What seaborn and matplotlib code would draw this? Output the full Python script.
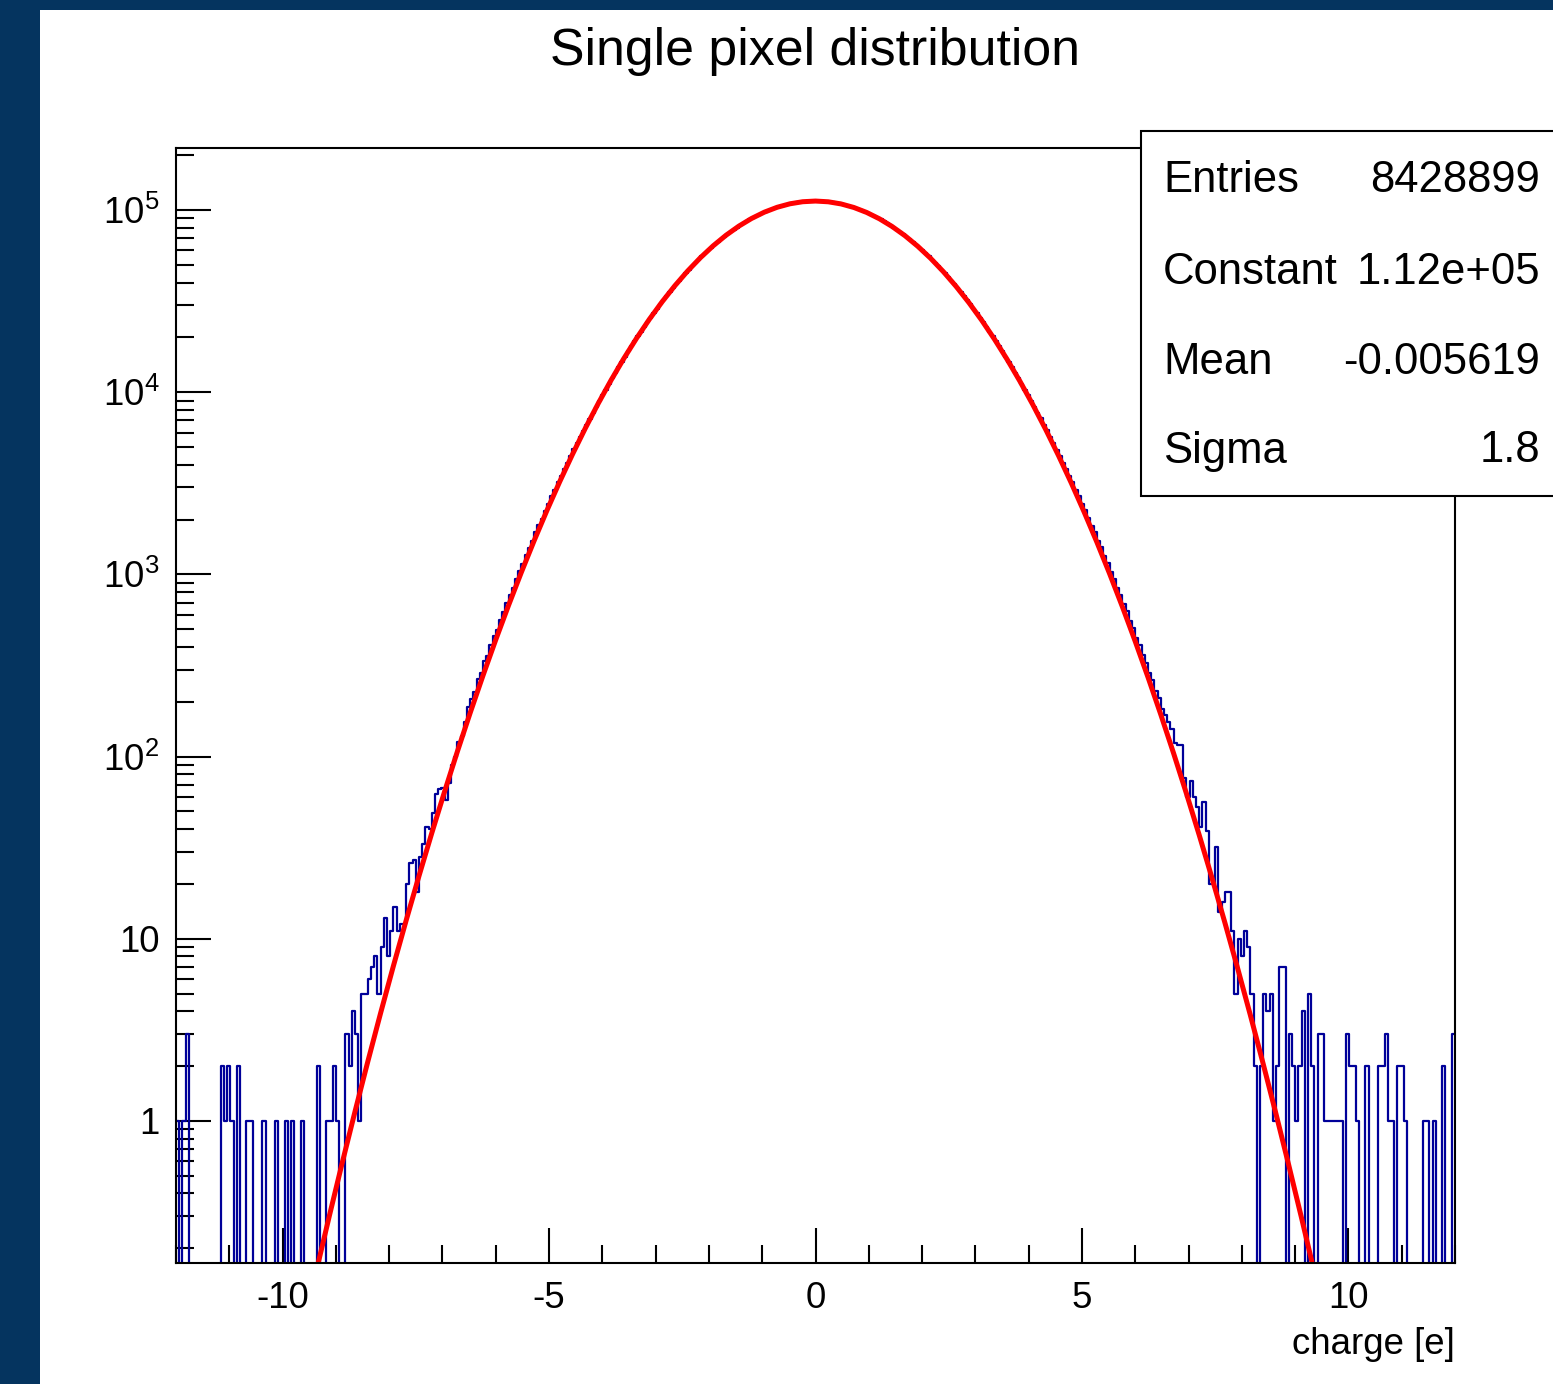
import numpy as np
import pandas as pd
import matplotlib
matplotlib.use("Agg")
import matplotlib.pyplot as plt
import seaborn as sns
from matplotlib import font_manager as fm
from matplotlib.patches import Rectangle
from matplotlib.ticker import FixedLocator, NullFormatter

# ---------------- data ----------------
title = "Single pixel distribution"
x_label = "charge [e]"
x_min, x_max, n_bins = -12.0, 12.0, 400

# bins 0..90 (x from -12 to -6.54), counts
left_tail_counts = [
    1, 0, 1, 3, 0, 0, 0, 0, 0, 0,
    0, 0, 0, 0, 2, 1, 2, 1, 0, 2,
    0, 0, 1, 1, 0, 0, 0, 1, 0, 0,
    0, 1, 0, 0, 1, 0, 1, 0, 0, 1,
    0, 0, 0, 0, 2, 0, 0, 1, 1, 2,
    1, 0, 0, 3, 2, 4, 3, 1, 5, 5,
    6, 7, 8, 5, 9, 13, 8, 11, 15, 11,
    12, 12, 20, 26, 27, 18, 28, 33, 41, 40,
    49, 62, 66, 67, 58, 72, 90, 100, 120, 130,
    155,
]

# bins 91..199 (left half of the core), log10 of counts
core_left_log10 = [
    2.270, 2.318, 2.355, 2.425, 2.458, 2.522, 2.552, 2.614, 2.660, 2.697,
    2.752, 2.793, 2.845, 2.886, 2.926, 2.975, 3.018, 3.059, 3.106, 3.146,
    3.184, 3.230, 3.271, 3.306, 3.350, 3.389, 3.428, 3.465, 3.505, 3.541,
    3.576, 3.614, 3.650, 3.686, 3.720, 3.755, 3.788, 3.822, 3.855, 3.887,
    3.920, 3.951, 3.982, 4.014, 4.045, 4.076, 4.107, 4.137, 4.166, 4.195,
    4.224, 4.252, 4.279, 4.306, 4.333, 4.359, 4.384, 4.409, 4.434, 4.458,
    4.482, 4.505, 4.528, 4.550, 4.571, 4.593, 4.613, 4.634, 4.653, 4.673,
    4.692, 4.710, 4.728, 4.745, 4.762, 4.778, 4.794, 4.810, 4.825, 4.839,
    4.853, 4.867, 4.880, 4.892, 4.904, 4.916, 4.927, 4.938, 4.948, 4.957,
    4.967, 4.975, 4.984, 4.991, 4.998, 5.005, 5.012, 5.017, 5.023, 5.027,
    5.032, 5.036, 5.039, 5.042, 5.044, 5.046, 5.048, 5.049, 5.049,
]

# bins 200..308 (right half of the core), log10 of counts
core_right_log10 = [
    5.049, 5.049, 5.048, 5.046, 5.044, 5.042, 5.039, 5.036, 5.032, 5.027,
    5.023, 5.017, 5.012, 5.005, 4.998, 4.991, 4.984, 4.975, 4.967, 4.957,
    4.948, 4.938, 4.927, 4.916, 4.904, 4.892, 4.880, 4.867, 4.853, 4.839,
    4.825, 4.810, 4.794, 4.778, 4.762, 4.745, 4.728, 4.710, 4.692, 4.673,
    4.653, 4.634, 4.613, 4.593, 4.571, 4.550, 4.528, 4.505, 4.482, 4.458,
    4.434, 4.409, 4.384, 4.359, 4.333, 4.306, 4.279, 4.252, 4.224, 4.195,
    4.166, 4.137, 4.107, 4.076, 4.045, 4.014, 3.982, 3.951, 3.920, 3.887,
    3.856, 3.821, 3.790, 3.753, 3.722, 3.684, 3.651, 3.612, 3.579, 3.538,
    3.506, 3.463, 3.429, 3.386, 3.351, 3.310, 3.265, 3.230, 3.183, 3.148,
    3.100, 3.062, 3.014, 2.976, 2.925, 2.889, 2.836, 2.797, 2.744, 2.705,
    2.650, 2.612, 2.555, 2.515, 2.457, 2.420, 2.360, 2.322, 2.262,
]

# bins 309..399 (x from 6.54 to 12), counts
right_tail_counts = [
    170, 155, 141, 119, 116, 116, 76, 60, 73, 60,
    53, 41, 56, 39, 20, 20, 32, 14, 16, 18,
    18, 11, 5, 10, 8, 11, 9, 5, 2, 0,
    2, 5, 4, 5, 1, 2, 7, 7, 0, 3,
    2, 1, 2, 4, 0, 5, 2, 0, 3, 3,
    1, 1, 1, 1, 1, 1, 0, 3, 2, 2,
    1, 0, 0, 2, 0, 0, 0, 2, 2, 3,
    1, 1, 0, 2, 2, 1, 0, 0, 0, 0,
    0, 1, 1, 0, 1, 0, 0, 2, 0, 0,
    3,
]

# fit (stat box) parameters
stat_names = ["Entries", "Constant", "Mean", "Sigma"]
stat_values = ["8428899", "1.12e+05", "-0.005619", "1.8"]
fit_constant = 1.12e5
fit_mean = -0.005619
fit_sigma = 1.8

x_tick_values = [-10, -5, 0, 5, 10]
x_tick_labels = ["-10", "-5", "0", "5", "10"]
y_tick_values = [1, 10, 100, 1000, 10000, 100000]
y_tick_labels = ["1", "10", "$10^{2}$", "$10^{3}$", "$10^{4}$", "$10^{5}$"]

# ---------------- style ----------------
sns.set_style("white")


def has_font(name):
    try:
        fm.findfont(fm.FontProperties(family=name), fallback_to_default=False)
        return True
    except ValueError:
        return False


if has_font("Liberation Sans Narrow"):
    family, fscale = "Liberation Sans Narrow", 1.0
else:
    family, fscale = "Liberation Sans", 0.85

plt.rcParams["font.family"] = [family, "DejaVu Sans"]
plt.rcParams["mathtext.fontset"] = "custom"
plt.rcParams["mathtext.rm"] = family
plt.rcParams["mathtext.it"] = family
plt.rcParams["mathtext.bf"] = family
for key in ["text.color", "axes.labelcolor", "xtick.color", "ytick.color"]:
    plt.rcParams[key] = "black"

W, H = 1553, 1384
fig = plt.figure(figsize=(W / 100, H / 100), dpi=100)
fig.patch.set_facecolor("white")

# dark frame bands of the screenshot
fig.add_artist(Rectangle((0, 0), 40 / W, 1, transform=fig.transFigure,
                         fc="#05345f", ec="none", zorder=0))
fig.add_artist(Rectangle((0, 1 - 10 / H), 1, 10 / H, transform=fig.transFigure,
                         fc="#05345f", ec="none", zorder=0))

ax = fig.add_axes([176 / W, 1 - 1263 / H, (1455 - 176) / W, (1263 - 148) / H])

edges = np.linspace(x_min, x_max, n_bins + 1)
centers = 0.5 * (edges[:-1] + edges[1:])
counts = np.concatenate([
    np.array(left_tail_counts, dtype=float),
    np.round(10 ** np.array(core_left_log10)),
    np.round(10 ** np.array(core_right_log10)),
    np.array(right_tail_counts, dtype=float),
])
hist_df = pd.DataFrame({"charge": centers,
                        "count": np.where(counts > 0, counts, 1e-3)})

sns.histplot(data=hist_df, x="charge", weights="count", bins=n_bins,
             binrange=(x_min, x_max), element="step", fill=False,
             color="#000099", linewidth=1.6, ax=ax)

xf = np.linspace(x_min, x_max, 101)
fit_df = pd.DataFrame({"charge": xf,
                       "fit": fit_constant * np.exp(-0.5 * ((xf - fit_mean) / fit_sigma) ** 2)})
sns.lineplot(data=fit_df, x="charge", y="fit", color="#ff0000", linewidth=3.6, ax=ax)

ax.set_yscale("log")
ax.set_xlim(x_min, x_max)
ax.set_ylim(0.166, 2.19e5)

ax.xaxis.set_major_locator(FixedLocator(x_tick_values))
ax.set_xticklabels(x_tick_labels)
ax.xaxis.set_minor_locator(FixedLocator(np.arange(-12, 13, 1)))
ax.xaxis.set_minor_formatter(NullFormatter())
ax.yaxis.set_major_locator(FixedLocator(y_tick_values))
ax.set_yticklabels(y_tick_labels)
ax.yaxis.set_minor_locator(FixedLocator(
    [m * 10.0 ** d for d in range(-1, 6) for m in range(2, 10)]))
ax.yaxis.set_minor_formatter(NullFormatter())

tick_fs = 31 * fscale
ax.tick_params(axis="both", which="both", direction="in", width=1.5,
               bottom=True, left=True, top=False, right=False, colors="black")
ax.tick_params(axis="both", which="major", length=25, labelsize=tick_fs)
ax.tick_params(axis="both", which="minor", length=13)
ax.tick_params(axis="x", which="major", pad=13)
ax.tick_params(axis="y", which="major", pad=12)
for s in ax.spines.values():
    s.set_linewidth(1.5)
    s.set_color("black")

ax.set_ylabel("")
ax.set_xlabel(x_label, loc="right", fontsize=tick_fs, labelpad=8)

fig.text(815 / W, 1 - 52 / H, title, ha="center", va="center", fontsize=44 * fscale)

# stat box
fig.add_artist(Rectangle((1141 / W, 1 - 496 / H), (1620 - 1141) / W, (496 - 131) / H,
                         transform=fig.transFigure, fc="white", ec="black",
                         lw=1.5, zorder=10, clip_on=False))
row_y = [181, 272, 362, 451]
for name, val, yc in zip(stat_names, stat_values, row_y):
    fig.text(1163 / W, 1 - yc / H, name, ha="left", va="center",
             fontsize=37 * fscale, zorder=11)
    fig.text(1540 / W, 1 - yc / H, val, ha="right", va="center",
             fontsize=37 * fscale, zorder=11)

fig.savefig("out.png", dpi=100)
